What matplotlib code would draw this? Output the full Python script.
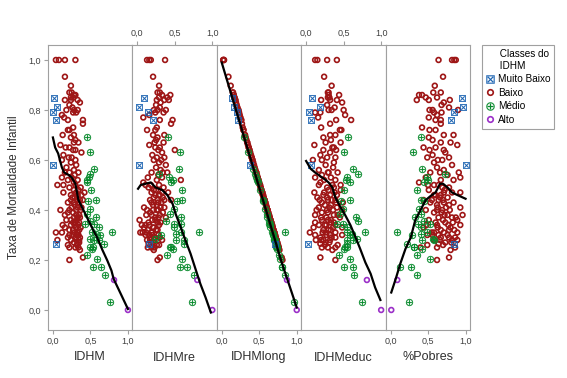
import numpy as np
import matplotlib.pyplot as plt
from matplotlib.lines import Line2D

# ---- dados (valores normalizados 0-1) ----
# Muito Baixo
mb_mort = [0.846, 0.81, 0.79, 0.76, 0.58, 0.265]
mb_idhm = [0.01, 0.06, 0.00, 0.04, 0.00, 0.04]
mb_re = [0.09, 0.02, 0.14, 0.21, 0.02, 0.155]
mb_long = [0.14, 0.17, 0.20, 0.22, 0.38, 0.71]
mb_educ = [0.08, 0.18, 0.04, 0.06, 0.07, 0.02]
mb_pob = [0.95, 0.96, 0.84, 0.81, 1.00, 0.85]

# Baixo
b_mort = [1.00, 1.00, 1.00, 1.00, 0.933, 0.897, 0.87, 0.87, 0.86, 0.86,
          0.85, 0.85, 0.84, 0.84, 0.84, 0.83, 0.82, 0.81, 0.80, 0.80,
          0.80, 0.79, 0.79, 0.78, 0.77, 0.76, 0.76, 0.745, 0.73, 0.72,
          0.72, 0.70, 0.70, 0.69, 0.68, 0.67, 0.67, 0.66, 0.65, 0.65,
          0.64, 0.64, 0.63, 0.62, 0.61, 0.61, 0.60, 0.59, 0.58, 0.57,
          0.56, 0.55, 0.55, 0.54, 0.53, 0.53, 0.52, 0.52, 0.51, 0.50,
          0.50, 0.50, 0.49, 0.49, 0.48, 0.47, 0.47, 0.46, 0.46, 0.45,
          0.44, 0.44, 0.43, 0.43, 0.42, 0.41, 0.41, 0.40, 0.40, 0.39,
          0.38, 0.38, 0.37, 0.37, 0.36, 0.36, 0.35, 0.35, 0.34, 0.34,
          0.33, 0.33, 0.32, 0.32, 0.31, 0.31, 0.30, 0.30, 0.29, 0.29,
          0.28, 0.28, 0.28, 0.27, 0.265, 0.26, 0.25, 0.25, 0.24, 0.21,
          0.20, 0.31,
          0.48, 0.47, 0.46, 0.45, 0.44, 0.43, 0.42, 0.41, 0.40, 0.39,
          0.38, 0.37, 0.36, 0.35, 0.34, 0.33, 0.32, 0.31, 0.30, 0.29,
          0.28, 0.27, 0.26, 0.25, 0.44, 0.40, 0.34, 0.30, 0.55, 0.60]
b_idhm = [0.04, 0.08, 0.16, 0.30, 0.16, 0.24, 0.22, 0.25, 0.28, 0.30,
          0.24, 0.27, 0.16, 0.24, 0.33, 0.36, 0.22, 0.26, 0.18, 0.28,
          0.33, 0.27, 0.31, 0.12, 0.15, 0.20, 0.40, 0.40, 0.27, 0.20,
          0.22, 0.28, 0.13, 0.24, 0.30, 0.28, 0.34, 0.10, 0.17, 0.22,
          0.27, 0.30, 0.38, 0.14, 0.21, 0.25, 0.12, 0.24, 0.31, 0.18,
          0.28, 0.16, 0.22, 0.29, 0.12, 0.25, 0.33, 0.20, 0.28, 0.06,
          0.14, 0.30, 0.37, 0.22, 0.28, 0.42, 0.14, 0.24, 0.33, 0.29,
          0.36, 0.40, 0.20, 0.28, 0.34, 0.38, 0.25, 0.31, 0.10, 0.20,
          0.35, 0.16, 0.28, 0.33, 0.18, 0.24, 0.30, 0.35, 0.13, 0.29,
          0.37, 0.16, 0.22, 0.27, 0.33, 0.12, 0.26, 0.32, 0.20, 0.30,
          0.06, 0.24, 0.35, 0.28, 0.33, 0.20, 0.22, 0.30, 0.36, 0.40,
          0.22, 0.04,
          0.34, 0.31, 0.38, 0.26, 0.32, 0.35, 0.29, 0.33, 0.37, 0.27,
          0.31, 0.36, 0.32, 0.27, 0.34, 0.31, 0.35, 0.29, 0.34, 0.36,
          0.31, 0.35, 0.32, 0.34, 0.24, 0.22, 0.24, 0.22, 0.34, 0.30]
b_re = [0.13, 0.16, 0.18, 0.37, 0.21, 0.29, 0.27, 0.30, 0.33, 0.44,
        0.40, 0.29, 0.26, 0.36, 0.42, 0.31, 0.25, 0.30, 0.22, 0.38,
        0.27, 0.24, 0.35, 0.16, 0.08, 0.30, 0.47, 0.45, 0.26, 0.24,
        0.13, 0.36, 0.21, 0.27, 0.25, 0.23, 0.35, 0.16, 0.24, 0.30,
        0.50, 0.28, 0.33, 0.20, 0.26, 0.36, 0.22, 0.29, 0.38, 0.25,
        0.31, 0.19, 0.34, 0.28, 0.14, 0.33, 0.58, 0.26, 0.08, 0.11,
        0.18, 0.29, 0.35, 0.15, 0.22, 0.41, 0.19, 0.30, 0.24, 0.34,
        0.27, 0.45, 0.19, 0.32, 0.26, 0.36, 0.09, 0.28, 0.21, 0.17,
        0.30, 0.12, 0.24, 0.38, 0.03, 0.20, 0.27, 0.31, 0.06, 0.16,
        0.22, 0.09, 0.25, 0.14, 0.19, 0.07, 0.11, 0.28, 0.18, 0.24,
        0.13, 0.17, 0.33, 0.21, 0.15, 0.26, 0.19, 0.23, 0.22, 0.30,
        0.27, 0.04,
        0.25, 0.33, 0.29, 0.22, 0.36, 0.28, 0.21, 0.31, 0.26, 0.34,
        0.19, 0.28, 0.24, 0.15, 0.29, 0.21, 0.27, 0.12, 0.20, 0.30,
        0.23, 0.18, 0.29, 0.14, 0.17, 0.13, 0.11, 0.16, 0.40, 0.32]
b_long = [0.02, 0.02, 0.03, 0.03, 0.09, 0.12, 0.15, 0.15, 0.16, 0.16,
          0.17, 0.17, 0.18, 0.18, 0.18, 0.19, 0.20, 0.21, 0.22, 0.22,
          0.22, 0.23, 0.23, 0.24, 0.25, 0.26, 0.26, 0.27, 0.28, 0.29,
          0.29, 0.31, 0.31, 0.32, 0.33, 0.34, 0.34, 0.35, 0.36, 0.36,
          0.37, 0.37, 0.38, 0.39, 0.40, 0.40, 0.41, 0.42, 0.43, 0.44,
          0.45, 0.46, 0.46, 0.47, 0.48, 0.48, 0.49, 0.49, 0.50, 0.51,
          0.51, 0.51, 0.52, 0.52, 0.53, 0.54, 0.54, 0.55, 0.55, 0.56,
          0.57, 0.57, 0.58, 0.58, 0.59, 0.60, 0.60, 0.61, 0.61, 0.62,
          0.63, 0.63, 0.64, 0.64, 0.65, 0.65, 0.66, 0.66, 0.67, 0.67,
          0.68, 0.68, 0.69, 0.69, 0.70, 0.70, 0.71, 0.71, 0.72, 0.72,
          0.73, 0.73, 0.73, 0.74, 0.74, 0.75, 0.76, 0.76, 0.77, 0.80,
          0.81, 0.70,
          0.53, 0.54, 0.55, 0.56, 0.57, 0.58, 0.59, 0.60, 0.61, 0.62,
          0.63, 0.64, 0.65, 0.66, 0.67, 0.68, 0.69, 0.70, 0.71, 0.72,
          0.73, 0.74, 0.75, 0.76, 0.57, 0.61, 0.67, 0.71, 0.46, 0.41]
b_educ = [0.12, 0.15, 0.28, 0.41, 0.24, 0.34, 0.30, 0.29, 0.44, 0.30,
          0.31, 0.29, 0.20, 0.32, 0.41, 0.48, 0.28, 0.38, 0.50, 0.34,
          0.30, 0.12, 0.19, 0.52, 0.16, 0.40, 0.60, 0.32, 0.20, 0.47,
          0.45, 0.32, 0.39, 0.23, 0.33, 0.46, 0.26, 0.11, 0.37, 0.35,
          0.40, 0.23, 0.32, 0.19, 0.28, 0.39, 0.09, 0.37, 0.26, 0.36,
          0.17, 0.42, 0.29, 0.21, 0.33, 0.12, 0.24, 0.39, 0.19, 0.35,
          0.46, 0.17, 0.28, 0.37, 0.46, 0.11, 0.24, 0.32, 0.41, 0.15,
          0.29, 0.39, 0.49, 0.21, 0.33, 0.41, 0.17, 0.28, 0.48, 0.21,
          0.37, 0.12, 0.27, 0.45, 0.33, 0.21, 0.37, 0.12, 0.27, 0.39,
          0.48, 0.10, 0.23, 0.33, 0.39, 0.26, 0.32, 0.48, 0.19, 0.39,
          0.13, 0.23, 0.32, 0.26, 0.19, 0.42, 0.39, 0.29, 0.35, 0.19,
          0.39, 0.05,
          0.30, 0.38, 0.23, 0.28, 0.34, 0.40, 0.25, 0.31, 0.36, 0.29,
          0.42, 0.20, 0.29, 0.33, 0.25, 0.36, 0.30, 0.22, 0.27, 0.34,
          0.20, 0.31, 0.25, 0.21, 0.18, 0.14, 0.17, 0.12, 0.30, 0.21]
b_pob = [0.64, 0.82, 0.85, 0.87, 0.70, 0.59, 0.67, 0.57, 0.38, 0.42,
         0.47, 0.62, 0.35, 0.51, 0.79, 0.71, 0.68, 0.78, 0.52, 0.56,
         0.90, 0.58, 0.68, 0.62, 0.51, 0.60, 0.67, 0.67, 0.42, 0.52,
         0.60, 0.84, 0.71, 0.51, 0.56, 0.67, 0.80, 0.89, 0.44, 0.60,
         0.71, 0.52, 0.73, 0.56, 0.78, 0.49, 0.69, 0.58, 0.82, 0.62,
         0.71, 0.91, 0.53, 0.76, 0.93, 0.47, 0.84, 0.67, 0.38, 0.50,
         0.58, 0.64, 0.69, 0.78, 0.51, 0.71, 0.93, 0.60, 0.67, 0.76,
         0.44, 0.64, 0.71, 0.53, 0.78, 0.93, 0.63, 0.69, 0.47, 0.58,
         0.76, 0.96, 0.64, 0.82, 0.89, 0.51, 0.60, 0.73, 0.93, 0.62,
         0.80, 0.44, 0.67, 0.78, 0.89, 0.58, 0.64, 0.49, 0.78, 0.67,
         0.82, 0.58, 0.89, 0.73, 0.64, 0.49, 0.40, 0.62, 0.80, 0.78,
         0.62, 0.55,
         0.72, 0.82, 0.58, 0.66, 0.70, 0.84, 0.62, 0.74, 0.79, 0.68,
         0.72, 0.87, 0.70, 0.83, 0.77, 0.63, 0.85, 0.71, 0.76, 0.86,
         0.66, 0.81, 0.70, 0.86, 0.55, 0.62, 0.48, 0.56, 0.66, 0.63]

# Medio
m_mort = [0.69, 0.63, 0.565, 0.545, 0.53, 0.52, 0.48, 0.44, 0.435, 0.405,
          0.385, 0.37, 0.355, 0.345, 0.345, 0.33, 0.31, 0.31, 0.305, 0.30,
          0.285, 0.28, 0.28, 0.265, 0.25, 0.245, 0.22, 0.205, 0.17, 0.17,
          0.14, 0.03, 0.51, 0.25]
m_idhm = [0.45, 0.49, 0.55, 0.50, 0.48, 0.455, 0.51, 0.57, 0.47, 0.49,
          0.45, 0.57, 0.50, 0.545, 0.43, 0.61, 0.79, 0.52, 0.57, 0.625,
          0.50, 0.545, 0.61, 0.68, 0.49, 0.52, 0.455, 0.59, 0.535, 0.635,
          0.69, 0.76, 0.455, 0.54]
m_re = [0.41, 0.57, 0.56, 0.29, 0.42, 0.47, 0.59, 0.59, 0.53, 0.49,
        0.44, 0.58, 0.38, 0.58, 0.49, 0.49, 0.82, 0.58, 0.51, 0.31,
        0.24, 0.51, 0.62, 0.62, 0.44, 0.47, 0.40, 0.60, 0.57, 0.66,
        0.76, 0.73, 0.45, 0.45]
m_long = [0.30, 0.35, 0.42, 0.44, 0.46, 0.47, 0.51, 0.55, 0.55, 0.58,
          0.60, 0.61, 0.63, 0.63, 0.64, 0.65, 0.85, 0.67, 0.68, 0.68,
          0.70, 0.70, 0.71, 0.72, 0.73, 0.74, 0.76, 0.78, 0.81, 0.81,
          0.84, 0.97, 0.48, 0.74]
m_educ = [0.56, 0.51, 0.62, 0.69, 0.55, 0.53, 0.50, 0.59, 0.47, 0.49,
          0.45, 0.66, 0.69, 0.41, 0.49, 0.55, 0.79, 0.55, 0.61, 0.59,
          0.68, 0.55, 0.62, 0.55, 0.55, 0.50, 0.44, 0.58, 0.51, 0.63,
          0.635, 0.75, 0.58, 0.52]
m_pob = [0.40, 0.30, 0.42, 0.72, 0.48, 0.50, 0.35, 0.40, 0.44, 0.38,
         0.40, 0.32, 0.44, 0.53, 0.36, 0.40, 0.08, 0.49, 0.40, 0.29,
         0.56, 0.42, 0.58, 0.22, 0.31, 0.42, 0.35, 0.53, 0.13, 0.27,
         0.35, 0.24, 0.45, 0.31]

# Alto
a_mort = [0.12, 0.00]
a_idhm = [0.815, 1.00]
a_re = [0.80, 1.00]
a_long = [0.87, 1.00]
a_educ = [0.81, 1.00]
a_pob = [0.09, 0.01]

# curvas suavizadas
sm_idhm_x = [0.0, 0.03, 0.07, 0.12, 0.15, 0.21, 0.25, 0.30, 0.34, 0.39, 0.455,
             0.52, 0.59, 0.66, 0.725, 0.78, 0.81, 0.88, 1.0]
sm_idhm_y = [0.69, 0.65, 0.626, 0.57, 0.55, 0.54, 0.53, 0.505, 0.44, 0.41, 0.37,
             0.33, 0.29, 0.24, 0.198, 0.158, 0.124, 0.08, 0.004]
sm_re_x = [0.01, 0.045, 0.11, 0.18, 0.245, 0.33, 0.40, 0.47, 0.51, 0.58, 0.64,
           0.71, 0.78, 0.84, 0.91, 0.98]
sm_re_y = [0.485, 0.50, 0.505, 0.51, 0.49, 0.48, 0.46, 0.425, 0.385, 0.33, 0.28,
           0.225, 0.16, 0.105, 0.05, -0.01]
sm_long_x = [0.0, 0.1, 0.2, 0.3, 0.4, 0.5, 0.6, 0.7, 0.8, 0.9, 1.0]
sm_long_y = [0.99, 0.89, 0.79, 0.69, 0.59, 0.49, 0.39, 0.29, 0.19, 0.10, 0.01]
sm_educ_x = [0.0, 0.06, 0.12, 0.19, 0.26, 0.30, 0.35, 0.39, 0.46, 0.52, 0.59,
             0.66, 0.72, 0.79, 0.86, 0.92, 0.99]
sm_educ_y = [0.596, 0.565, 0.55, 0.535, 0.52, 0.51, 0.49, 0.45, 0.41, 0.38, 0.34,
             0.29, 0.245, 0.19, 0.145, 0.09, 0.04]
sm_pob_x = [0.01, 0.07, 0.13, 0.20, 0.27, 0.33, 0.40, 0.47, 0.53, 0.60, 0.66,
            0.70, 0.76, 0.82, 0.89, 1.0]
sm_pob_y = [0.07, 0.125, 0.185, 0.245, 0.29, 0.36, 0.40, 0.44, 0.455, 0.47, 0.505,
            0.505, 0.49, 0.47, 0.46, 0.445]

var_names = ['IDHM', 'IDHMre', 'IDHMlong', 'IDHMeduc', '%Pobres']
x_ticks = [0.0, 0.5, 1.0]
x_labels = ['0,0', '0,5', '1,0']
y_ticks = [0.0, 0.2, 0.4, 0.6, 0.8, 1.0]
y_labels = ['0,0', '0,2', '0,4', '0,6', '0,8', '1,0']

# (rotulo, cor, marcador, tamanho, espessura, y, [x por painel])
classes = [
    ('Baixo', '#9e1616', 'o', 12, 1.2, b_mort, [b_idhm, b_re, b_long, b_educ, b_pob]),
    ('Médio', '#078a2c', r'$\oplus$', 26, 0.15, m_mort, [m_idhm, m_re, m_long, m_educ, m_pob]),
    ('Muito Baixo', '#1660b0', r'$\boxtimes$', 24, 0.1, mb_mort, [mb_idhm, mb_re, mb_long, mb_educ, mb_pob]),
    ('Alto', '#9b30c8', 'o', 12, 1.2, a_mort, [a_idhm, a_re, a_long, a_educ, a_pob]),
]
smooths = [(sm_idhm_x, sm_idhm_y), (sm_re_x, sm_re_y), (sm_long_x, sm_long_y),
           (sm_educ_x, sm_educ_y), (sm_pob_x, sm_pob_y)]

plt.rcParams['font.family'] = ['Liberation Sans', 'DejaVu Sans']
grey = '#a0a0a0'
txt = '#404040'

fig, axes = plt.subplots(1, 5, sharey=True, figsize=(5.67, 3.78), dpi=100)
fig.subplots_adjust(left=0.0847, right=0.829, bottom=0.127, top=0.881, wspace=0)

for i, ax in enumerate(axes):
    for name, col, mk, sz, lw, ys, xs in classes:
        if mk == 'o':
            ax.scatter(xs[i], ys, marker=mk, s=sz, facecolors='none', edgecolors=col,
                       linewidths=lw, zorder=2)
        else:
            ax.scatter(xs[i], ys, marker=mk, s=sz, color=col, linewidths=lw, zorder=2)
    ax.plot(smooths[i][0], smooths[i][1], color='black', lw=1.6, zorder=3)
    ax.set_xlim(-0.065, 1.06)
    ax.set_ylim(-0.08, 1.06)
    for sp in ax.spines.values():
        sp.set_color(grey)
    ax.set_xticks(x_ticks)
    ax.set_xticklabels(x_labels)
    ax.tick_params(colors=grey, labelcolor=txt, labelsize=6.5, length=3, width=0.8, pad=2)
    if i % 2 == 1:
        ax.tick_params(axis='x', bottom=False, labelbottom=False, top=True, labeltop=True)
    ax.set_xlabel(var_names[i], fontsize=9, color='#303030', labelpad=16 if i % 2 == 1 else 4)
    if i > 0:
        ax.tick_params(axis='y', left=False)

axes[0].set_yticks(y_ticks)
axes[0].set_yticklabels(y_labels)
axes[0].set_ylabel('Taxa de Mortalidade Infantil', fontsize=8.5, color='#303030', labelpad=6)

order = [classes[2], classes[0], classes[1], classes[3]]
handles = []
for name, col, mk, sz, lw, ys, xs in order:
    if mk == 'o':
        handles.append(Line2D([], [], linestyle='', marker='o', markersize=4,
                              markerfacecolor='none', markeredgecolor=col,
                              markeredgewidth=1.2))
    else:
        handles.append(Line2D([], [], linestyle='', marker=mk, color=col,
                              markersize=6, markeredgewidth=0.1))
labels = [c[0] for c in order]
leg = fig.legend(handles, labels, title='     Classes do\n     IDHM', loc='upper left',
                 bbox_to_anchor=(0.850, 0.881), borderaxespad=0, fontsize=7.2,
                 title_fontsize=7.2, fancybox=False, edgecolor=grey, framealpha=1,
                 handlelength=0.8, handletextpad=0.4, labelspacing=0.35,
                 borderpad=0.4)
leg._legend_box.align = 'left'
leg.get_frame().set_linewidth(0.8)

plt.savefig('out.png', dpi=100)
